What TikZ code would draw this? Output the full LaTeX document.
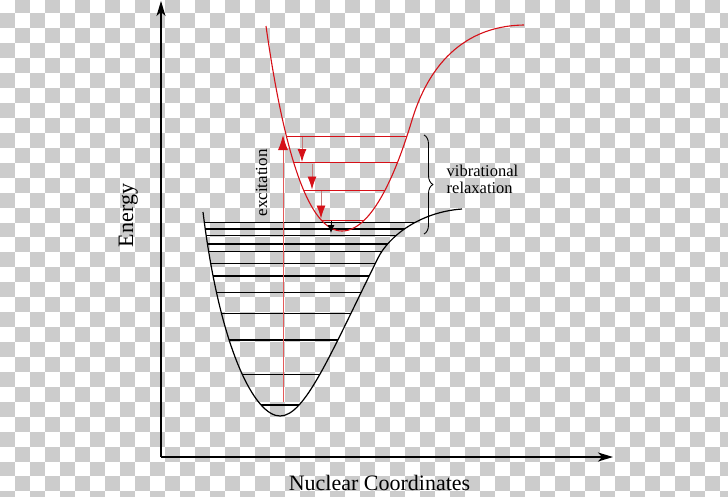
\documentclass[tikz,border=0pt]{standalone}
\usepackage{fontspec}
\setmainfont{Liberation Serif}
\usetikzlibrary{arrows.meta,decorations.pathreplacing}
\definecolor{chk}{RGB}{204,204,204}
\definecolor{cred}{RGB}{214,16,24}
\definecolor{shaftc}{RGB}{200,120,120}
\definecolor{excc}{RGB}{228,90,90}
\begin{document}
\begin{tikzpicture}[x=1pt,y=-1pt,line join=round,
  axis/.style={line width=1.1pt,-{Stealth[length=15pt,width=9pt,inset=4pt]}},
  ground/.style={line width=1.2pt,black},
  excited/.style={line width=1.1pt,cred},
  glevel/.style={line width=1.1pt,black},
  rlevel/.style={line width=0.9pt,cred},
  relax/.style={line width=0.9pt,shaftc,-{Latex[length=13pt,width=9pt,color=cred]}},
  lbl/.style={inner sep=0pt,text=black}]
\useasboundingbox (0,0) rectangle (728,496);
\fill[white] (0,0) rectangle (728,496);
% transparency checkerboard
\begin{scope}
\clip (0,0) rectangle (728,496);
\foreach \j in {0,...,33}{
  \foreach \i in {0,...,48}{
    \pgfmathtruncatemacro\chkpar{mod(\i+\j,2)}
    \ifnum\chkpar=1 \fill[chk] ({15*\i},{-1.6+14.94*\j}) rectangle ++(15,14.94);\fi
  }
}
\end{scope}
% axes
\coordinate (O) at (161,457);
\coordinate (ytip) at (161,1);
\coordinate (xtip) at (613,457);
\draw[axis] (O) -- (ytip);
\draw[axis] (O) -- (xtip);
\node[lbl,font=\fontsize{22}{22}\selectfont,rotate=90,anchor=base] (energy) at (133,215.5) {Energy};
\node[lbl,font=\fontsize{22}{22}\selectfont,anchor=base] (nuc) at (379.5,490) {Nuclear Coordinates};
% ground state curve and levels
\def\groundcurve{(203,212) .. controls (220,350) and (255,416) .. (280,416)
  .. controls (305,416) and (330,355) .. (378,258)
  .. controls (389,236) and (420,212) .. (462,209)}
\begin{scope}
\clip \groundcurve -- cycle;
\foreach \y in {222.3,229,235.7,244,251.7,263.3,276,292.3,313.3,340,374.3,405}
  \draw[glevel] (190,\y) -- (480,\y);
\end{scope}
\draw[ground] \groundcurve;
% excited state curve and levels
\def\excitedcurve{(266,26) .. controls (285,160) and (310,231) .. (342,231)
  .. controls (375,231) and (400,160) .. (412,120)
  .. controls (425,77) and (455,26) .. (524,25)}
\begin{scope}
\clip \excitedcurve -- cycle;
\foreach \y in {136,162.7,190,220}
  \draw[rlevel] (270,\y) -- (430,\y);
\end{scope}
\draw[excited] \excitedcurve;
% excitation arrow
\coordinate (e0) at (283,402);
\coordinate (e1) at (283,135);
\draw[line width=0.9pt,excc,-{Latex[length=15pt,width=10pt,color=cred]}] (e0) -- (e1);
\node[lbl,font=\fontsize{17}{17}\selectfont,rotate=90,anchor=base] (exc) at (267,183) {excitation};
% relaxation arrows
\coordinate (a0) at (302,137); \coordinate (a1) at (302,162);
\coordinate (b0) at (312,164); \coordinate (b1) at (312,189.5);
\coordinate (c0) at (321,191); \coordinate (c1) at (321,218.5);
\coordinate (d0) at (331,221); \coordinate (d1) at (331,233);
\draw[relax] (a0) -- (a1);
\draw[relax] (b0) -- (b1);
\draw[relax] (c0) -- (c1);
\draw[line width=0.9pt,black,-{Latex[length=8pt,width=7pt]}] (d0) -- (d1);
% brace and label
\coordinate (br0) at (424,135);
\coordinate (br1) at (424,234);
\draw[line width=0.9pt,decorate,decoration={brace,amplitude=9pt}] (br0) -- (br1);
\node[lbl,font=\fontsize{16.5}{16.7}\selectfont,anchor=base west] (vib) at (446.5,176.7) {vibrational};
\node[lbl,font=\fontsize{16.5}{16.7}\selectfont,anchor=base west] (rel) at (446.5,193.3) {relaxation};
\end{tikzpicture}
\end{document}
